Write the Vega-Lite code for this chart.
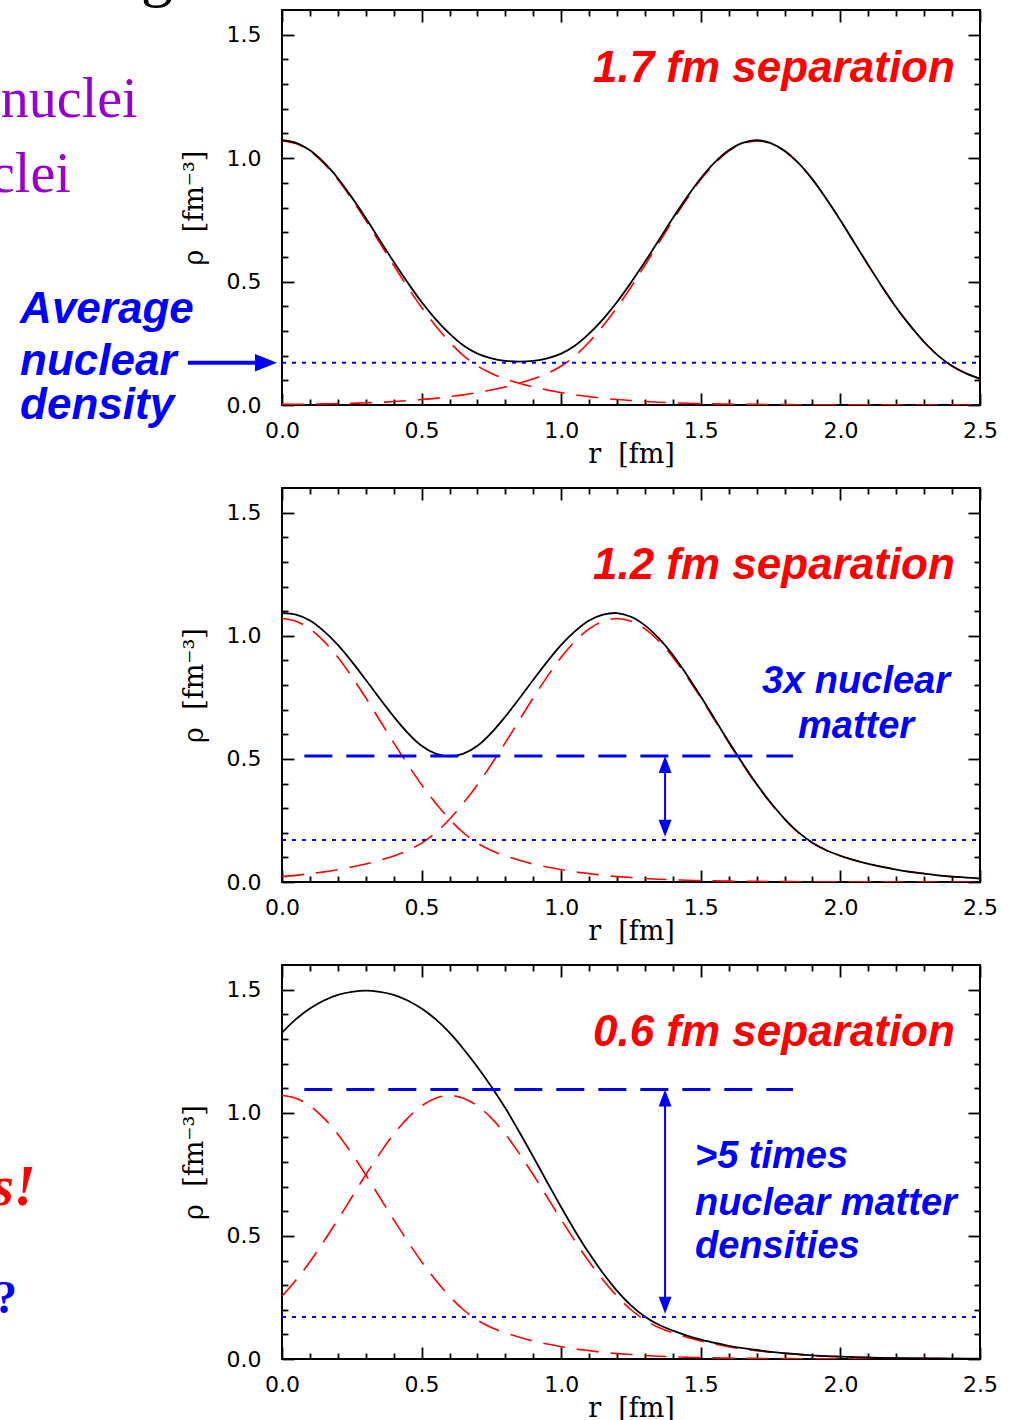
{
"$schema": "https://vega.github.io/schema/vega-lite/v6.json",
"background": "white",
"padding": {"left": -11, "top": -59, "right": 0, "bottom": 0},
"bounds": "flush",
"spacing": 83,
"config": {
  "view": {"stroke": "black", "strokeWidth": 2},
  "axis": {"grid": false, "domain": false, "labelFont": "DejaVu Sans", "labelFontSize": 22, "labelColor": "black", "tickColor": "black", "tickWidth": 1.8, "titleFont": "DejaVu Serif", "titleFontSize": 27, "titleFontWeight": "normal", "titleColor": "black", "labelFlush": false, "labelOverlap": false}
},
"datasets": {
"p1": [
{"r":0.00,"a":1.070,"b":0.0025,"tot":1.0725},{"r":0.05,"a":1.059,"b":0.003,"tot":1.062},{"r":0.10,"a":1.028,"b":0.0035,"tot":1.0315},{"r":0.15,"a":0.978,"b":0.0045,"tot":0.9825},{"r":0.20,"a":0.913,"b":0.0055,"tot":0.9185},{"r":0.25,"a":0.834,"b":0.007,"tot":0.841},{"r":0.30,"a":0.748,"b":0.009,"tot":0.757},{"r":0.35,"a":0.657,"b":0.011,"tot":0.668},{"r":0.40,"a":0.566,"b":0.014,"tot":0.580},{"r":0.45,"a":0.478,"b":0.018,"tot":0.496},{"r":0.50,"a":0.395,"b":0.022,"tot":0.417},{"r":0.55,"a":0.321,"b":0.027,"tot":0.348},{"r":0.60,"a":0.255,"b":0.034,"tot":0.289},{"r":0.65,"a":0.200,"b":0.041,"tot":0.241},{"r":0.70,"a":0.158,"b":0.050,"tot":0.208},{"r":0.75,"a":0.128,"b":0.061,"tot":0.189},{"r":0.80,"a":0.106,"b":0.073,"tot":0.179},{"r":0.85,"a":0.088,"b":0.088,"tot":0.176},{"r":0.90,"a":0.073,"b":0.106,"tot":0.179},{"r":0.95,"a":0.061,"b":0.128,"tot":0.189},{"r":1.00,"a":0.050,"b":0.158,"tot":0.208},{"r":1.05,"a":0.041,"b":0.200,"tot":0.241},{"r":1.10,"a":0.034,"b":0.255,"tot":0.289},{"r":1.15,"a":0.027,"b":0.321,"tot":0.348},{"r":1.20,"a":0.022,"b":0.395,"tot":0.417},{"r":1.25,"a":0.018,"b":0.478,"tot":0.496},{"r":1.30,"a":0.014,"b":0.566,"tot":0.580},{"r":1.35,"a":0.011,"b":0.657,"tot":0.668},{"r":1.40,"a":0.009,"b":0.748,"tot":0.757},{"r":1.45,"a":0.007,"b":0.834,"tot":0.841},{"r":1.50,"a":0.0055,"b":0.913,"tot":0.9185},{"r":1.55,"a":0.0045,"b":0.978,"tot":0.9825},{"r":1.60,"a":0.0035,"b":1.028,"tot":1.0315},{"r":1.65,"a":0.003,"b":1.059,"tot":1.062},{"r":1.70,"a":0.0025,"b":1.070,"tot":1.0725},{"r":1.75,"a":0.002,"b":1.059,"tot":1.061},{"r":1.80,"a":0.0016,"b":1.028,"tot":1.0296},{"r":1.85,"a":0.0013,"b":0.978,"tot":0.9793},{"r":1.90,"a":0.001,"b":0.913,"tot":0.914},{"r":1.95,"a":0.0008,"b":0.834,"tot":0.8348},{"r":2.00,"a":0.0007,"b":0.748,"tot":0.7487},{"r":2.05,"a":0.0006,"b":0.657,"tot":0.6576},{"r":2.10,"a":0.0005,"b":0.566,"tot":0.5665},{"r":2.15,"a":0.0004,"b":0.478,"tot":0.4784},{"r":2.20,"a":0.0003,"b":0.395,"tot":0.3953},{"r":2.25,"a":0.0003,"b":0.321,"tot":0.3213},{"r":2.30,"a":0.0002,"b":0.255,"tot":0.2552},{"r":2.35,"a":0.0002,"b":0.200,"tot":0.2002},{"r":2.40,"a":0.0001,"b":0.158,"tot":0.1581},{"r":2.45,"a":0.0001,"b":0.128,"tot":0.1281},{"r":2.50,"a":0.0001,"b":0.106,"tot":0.1061}
],
"p2": [
{"r":0.00,"a":1.070,"b":0.022,"tot":1.092},{"r":0.05,"a":1.059,"b":0.027,"tot":1.086},{"r":0.10,"a":1.028,"b":0.034,"tot":1.062},{"r":0.15,"a":0.978,"b":0.041,"tot":1.019},{"r":0.20,"a":0.913,"b":0.050,"tot":0.963},{"r":0.25,"a":0.834,"b":0.061,"tot":0.895},{"r":0.30,"a":0.748,"b":0.073,"tot":0.821},{"r":0.35,"a":0.657,"b":0.088,"tot":0.745},{"r":0.40,"a":0.566,"b":0.106,"tot":0.672},{"r":0.45,"a":0.478,"b":0.128,"tot":0.606},{"r":0.50,"a":0.395,"b":0.158,"tot":0.553},{"r":0.55,"a":0.321,"b":0.200,"tot":0.521},{"r":0.60,"a":0.255,"b":0.255,"tot":0.510},{"r":0.65,"a":0.200,"b":0.321,"tot":0.521},{"r":0.70,"a":0.158,"b":0.395,"tot":0.553},{"r":0.75,"a":0.128,"b":0.478,"tot":0.606},{"r":0.80,"a":0.106,"b":0.566,"tot":0.672},{"r":0.85,"a":0.088,"b":0.657,"tot":0.745},{"r":0.90,"a":0.073,"b":0.748,"tot":0.821},{"r":0.95,"a":0.061,"b":0.834,"tot":0.895},{"r":1.00,"a":0.050,"b":0.913,"tot":0.963},{"r":1.05,"a":0.041,"b":0.978,"tot":1.019},{"r":1.10,"a":0.034,"b":1.028,"tot":1.062},{"r":1.15,"a":0.027,"b":1.059,"tot":1.086},{"r":1.20,"a":0.022,"b":1.070,"tot":1.092},{"r":1.25,"a":0.018,"b":1.059,"tot":1.077},{"r":1.30,"a":0.014,"b":1.028,"tot":1.042},{"r":1.35,"a":0.011,"b":0.978,"tot":0.989},{"r":1.40,"a":0.009,"b":0.913,"tot":0.922},{"r":1.45,"a":0.007,"b":0.834,"tot":0.841},{"r":1.50,"a":0.0055,"b":0.748,"tot":0.7535},{"r":1.55,"a":0.0045,"b":0.657,"tot":0.6615},{"r":1.60,"a":0.0035,"b":0.566,"tot":0.5695},{"r":1.65,"a":0.003,"b":0.478,"tot":0.481},{"r":1.70,"a":0.0025,"b":0.395,"tot":0.3975},{"r":1.75,"a":0.002,"b":0.321,"tot":0.323},{"r":1.80,"a":0.0016,"b":0.255,"tot":0.2566},{"r":1.85,"a":0.0013,"b":0.200,"tot":0.2013},{"r":1.90,"a":0.001,"b":0.158,"tot":0.159},{"r":1.95,"a":0.0008,"b":0.128,"tot":0.1288},{"r":2.00,"a":0.0007,"b":0.106,"tot":0.1067},{"r":2.05,"a":0.0006,"b":0.088,"tot":0.0886},{"r":2.10,"a":0.0005,"b":0.073,"tot":0.0735},{"r":2.15,"a":0.0004,"b":0.061,"tot":0.0614},{"r":2.20,"a":0.0003,"b":0.050,"tot":0.0503},{"r":2.25,"a":0.0003,"b":0.041,"tot":0.0413},{"r":2.30,"a":0.0002,"b":0.034,"tot":0.0342},{"r":2.35,"a":0.0002,"b":0.027,"tot":0.0272},{"r":2.40,"a":0.0001,"b":0.022,"tot":0.0221},{"r":2.45,"a":0.0001,"b":0.018,"tot":0.0181},{"r":2.50,"a":0.0001,"b":0.014,"tot":0.0141}
],
"p3": [
{"r":0.00,"a":1.070,"b":0.255,"tot":1.325},{"r":0.05,"a":1.059,"b":0.321,"tot":1.380},{"r":0.10,"a":1.028,"b":0.395,"tot":1.423},{"r":0.15,"a":0.978,"b":0.478,"tot":1.456},{"r":0.20,"a":0.913,"b":0.566,"tot":1.479},{"r":0.25,"a":0.834,"b":0.657,"tot":1.491},{"r":0.30,"a":0.748,"b":0.748,"tot":1.496},{"r":0.35,"a":0.657,"b":0.834,"tot":1.491},{"r":0.40,"a":0.566,"b":0.913,"tot":1.479},{"r":0.45,"a":0.478,"b":0.978,"tot":1.456},{"r":0.50,"a":0.395,"b":1.028,"tot":1.423},{"r":0.55,"a":0.321,"b":1.059,"tot":1.380},{"r":0.60,"a":0.255,"b":1.070,"tot":1.325},{"r":0.65,"a":0.200,"b":1.059,"tot":1.259},{"r":0.70,"a":0.158,"b":1.028,"tot":1.186},{"r":0.75,"a":0.128,"b":0.978,"tot":1.106},{"r":0.80,"a":0.106,"b":0.913,"tot":1.019},{"r":0.85,"a":0.088,"b":0.834,"tot":0.922},{"r":0.90,"a":0.073,"b":0.748,"tot":0.821},{"r":0.95,"a":0.061,"b":0.657,"tot":0.718},{"r":1.00,"a":0.050,"b":0.566,"tot":0.616},{"r":1.05,"a":0.041,"b":0.478,"tot":0.519},{"r":1.10,"a":0.034,"b":0.395,"tot":0.429},{"r":1.15,"a":0.027,"b":0.321,"tot":0.348},{"r":1.20,"a":0.022,"b":0.255,"tot":0.277},{"r":1.25,"a":0.018,"b":0.200,"tot":0.218},{"r":1.30,"a":0.014,"b":0.158,"tot":0.172},{"r":1.35,"a":0.011,"b":0.128,"tot":0.139},{"r":1.40,"a":0.009,"b":0.106,"tot":0.115},{"r":1.45,"a":0.007,"b":0.088,"tot":0.095},{"r":1.50,"a":0.0055,"b":0.073,"tot":0.0785},{"r":1.55,"a":0.0045,"b":0.061,"tot":0.0655},{"r":1.60,"a":0.0035,"b":0.050,"tot":0.0535},{"r":1.65,"a":0.003,"b":0.041,"tot":0.044},{"r":1.70,"a":0.0025,"b":0.034,"tot":0.0365},{"r":1.75,"a":0.002,"b":0.027,"tot":0.029},{"r":1.80,"a":0.0016,"b":0.022,"tot":0.0236},{"r":1.85,"a":0.0013,"b":0.018,"tot":0.0193},{"r":1.90,"a":0.001,"b":0.014,"tot":0.015},{"r":1.95,"a":0.0008,"b":0.011,"tot":0.0118},{"r":2.00,"a":0.0007,"b":0.009,"tot":0.0097},{"r":2.05,"a":0.0006,"b":0.007,"tot":0.0076},{"r":2.10,"a":0.0005,"b":0.0055,"tot":0.006},{"r":2.15,"a":0.0004,"b":0.0045,"tot":0.0049},{"r":2.20,"a":0.0003,"b":0.0035,"tot":0.0038},{"r":2.25,"a":0.0003,"b":0.003,"tot":0.0033},{"r":2.30,"a":0.0002,"b":0.0025,"tot":0.0027},{"r":2.35,"a":0.0002,"b":0.002,"tot":0.0022},{"r":2.40,"a":0.0001,"b":0.0016,"tot":0.0017},{"r":2.45,"a":0.0001,"b":0.0013,"tot":0.0014},{"r":2.50,"a":0.0001,"b":0.001,"tot":0.0011}
]
},
"vconcat": [
{
"width": 698, "height": 395,
"resolve": {"axis": {"x": "independent", "y": "independent"}},
"layer": [
{"data": {"name": "p1"}, "mark": {"type": "line", "color": "#ff0000", "strokeWidth": 1.6, "strokeDash": [22, 12], "interpolate": "catmull-rom", "clip": true},
 "encoding": {"x": {"field": "r", "type": "quantitative", "scale": {"domain": [0, 2.5], "nice": false, "zero": false}, "axis": {"orient": "bottom", "values": [0, 0.5, 1, 1.5, 2, 2.5], "ticks": false, "format": ".1f", "labelPadding": 15, "title": "r\u00a0\u00a0[fm]", "titlePadding": 0}},
  "y": {"field": "a", "type": "quantitative", "scale": {"domain": [0, 1.6], "nice": false, "zero": false}, "axis": {"orient": "left", "values": [0, 0.5, 1, 1.5], "ticks": false, "format": ".1f", "labelPadding": 21, "title": "ρ\u00a0\u00a0[fm⁻³]", "titlePadding": 18}}}},
{"data": {"name": "p1"}, "mark": {"type": "line", "color": "#ff0000", "strokeWidth": 1.6, "strokeDash": [22, 12], "interpolate": "catmull-rom", "clip": true},
 "encoding": {"x": {"field": "r", "type": "quantitative", "scale": {"domain": [0, 2.5], "nice": false, "zero": false}, "axis": {"orient": "bottom", "values": [0, 0.5, 1, 1.5, 2, 2.5], "labels": false, "tickSize": -12, "title": null}},
  "y": {"field": "b", "type": "quantitative", "scale": {"domain": [0, 1.6], "nice": false, "zero": false}, "axis": {"orient": "left", "values": [0, 0.5, 1, 1.5], "labels": false, "tickSize": -12, "title": null}}}},
{"data": {"name": "p1"}, "mark": {"type": "line", "color": "black", "strokeWidth": 1.8, "interpolate": "catmull-rom", "clip": true},
 "encoding": {"x": {"field": "r", "type": "quantitative", "scale": {"domain": [0, 2.5], "nice": false, "zero": false}, "axis": {"orient": "bottom", "values": [0.1,0.2,0.3,0.4,0.6,0.7,0.8,0.9,1.1,1.2,1.3,1.4,1.6,1.7,1.8,1.9,2.1,2.2,2.3,2.4], "labels": false, "tickSize": -6, "title": null}},
  "y": {"field": "tot", "type": "quantitative", "scale": {"domain": [0, 1.6], "nice": false, "zero": false}, "axis": {"orient": "left", "values": [0.1,0.2,0.3,0.4,0.6,0.7,0.8,0.9,1.1,1.2,1.3,1.4], "labels": false, "tickSize": -6, "title": null}}}},
{"data": {"name": "p1"}, "mark": {"type": "point", "opacity": 0},
 "encoding": {"x": {"field": "r", "type": "quantitative", "scale": {"domain": [0, 2.5], "nice": false, "zero": false}, "axis": {"orient": "top", "values": [0, 0.5, 1, 1.5, 2, 2.5], "labels": false, "tickSize": -12, "title": null}},
  "y": {"field": "tot", "type": "quantitative", "scale": {"domain": [0, 1.6], "nice": false, "zero": false}, "axis": {"orient": "right", "values": [0, 0.5, 1, 1.5], "labels": false, "tickSize": -12, "title": null}}}},
{"data": {"name": "p1"}, "mark": {"type": "point", "opacity": 0},
 "encoding": {"x": {"field": "r", "type": "quantitative", "scale": {"domain": [0, 2.5], "nice": false, "zero": false}, "axis": {"orient": "top", "values": [0.1,0.2,0.3,0.4,0.6,0.7,0.8,0.9,1.1,1.2,1.3,1.4,1.6,1.7,1.8,1.9,2.1,2.2,2.3,2.4], "labels": false, "tickSize": -6, "title": null}},
  "y": {"field": "tot", "type": "quantitative", "scale": {"domain": [0, 1.6], "nice": false, "zero": false}, "axis": {"orient": "right", "values": [0.1,0.2,0.3,0.4,0.6,0.7,0.8,0.9,1.1,1.2,1.3,1.4], "labels": false, "tickSize": -6, "title": null}}}},
{"data": {"values": [{}]}, "mark": {"type": "rule", "color": "#0000ff", "strokeWidth": 2, "strokeDash": [4, 6]},
 "encoding": {"x": {"datum": 0, "type": "quantitative", "scale": {"domain": [0, 2.5], "nice": false, "zero": false}, "axis": null}, "x2": {"datum": 2.5}, "y": {"datum": 0.171, "type": "quantitative", "scale": {"domain": [0, 1.6], "nice": false, "zero": false}, "axis": null}}},
{"data": {"values": [{}]}, "mark": {"type": "text", "text": "1.7 fm separation", "font": "Liberation Sans", "fontSize": 44, "fontWeight": "bold", "fontStyle": "italic", "color": "#ff0000", "align": "right", "baseline": "alphabetic"},
 "encoding": {"x": {"datum": 2.41, "type": "quantitative", "scale": {"domain": [0, 2.5], "nice": false, "zero": false}, "axis": null}, "y": {"datum": 1.309, "type": "quantitative", "scale": {"domain": [0, 1.6], "nice": false, "zero": false}, "axis": null}}},
{"data": {"values": [{}]}, "mark": {"type": "text", "text": "g", "font": "Liberation Serif", "fontSize": 64, "color": "black", "align": "left", "baseline": "alphabetic"},
 "encoding": {"x": {"datum": -0.505, "type": "quantitative", "scale": {"domain": [0, 2.5], "nice": false, "zero": false}, "axis": null}, "y": {"datum": 1.665, "type": "quantitative", "scale": {"domain": [0, 1.6], "nice": false, "zero": false}, "axis": null}}},
{"data": {"values": [{}]}, "mark": {"type": "text", "text": "nuclei", "font": "Liberation Serif", "fontSize": 56, "color": "#9900cc", "align": "left", "baseline": "alphabetic"},
 "encoding": {"x": {"datum": -1.0072, "type": "quantitative", "scale": {"domain": [0, 2.5], "nice": false, "zero": false}, "axis": null}, "y": {"datum": 1.167, "type": "quantitative", "scale": {"domain": [0, 1.6], "nice": false, "zero": false}, "axis": null}}},
{"data": {"values": [{}]}, "mark": {"type": "text", "text": "clei", "font": "Liberation Serif", "fontSize": 56, "color": "#9900cc", "align": "left", "baseline": "alphabetic"},
 "encoding": {"x": {"datum": -1.0458, "type": "quantitative", "scale": {"domain": [0, 2.5], "nice": false, "zero": false}, "axis": null}, "y": {"datum": 0.863, "type": "quantitative", "scale": {"domain": [0, 1.6], "nice": false, "zero": false}, "axis": null}}},
{"data": {"values": [{}]}, "mark": {"type": "text", "text": "Average", "font": "Liberation Sans", "fontSize": 44, "fontWeight": "bold", "fontStyle": "italic", "color": "#0000ff", "align": "left", "baseline": "alphabetic"},
 "encoding": {"x": {"datum": -0.938, "type": "quantitative", "scale": {"domain": [0, 2.5], "nice": false, "zero": false}, "axis": null}, "y": {"datum": 0.332, "type": "quantitative", "scale": {"domain": [0, 1.6], "nice": false, "zero": false}, "axis": null}}},
{"data": {"values": [{}]}, "mark": {"type": "text", "text": "nuclear", "font": "Liberation Sans", "fontSize": 44, "fontWeight": "bold", "fontStyle": "italic", "color": "#0000ff", "align": "left", "baseline": "alphabetic"},
 "encoding": {"x": {"datum": -0.938, "type": "quantitative", "scale": {"domain": [0, 2.5], "nice": false, "zero": false}, "axis": null}, "y": {"datum": 0.1215, "type": "quantitative", "scale": {"domain": [0, 1.6], "nice": false, "zero": false}, "axis": null}}},
{"data": {"values": [{}]}, "mark": {"type": "text", "text": "density", "font": "Liberation Sans", "fontSize": 44, "fontWeight": "bold", "fontStyle": "italic", "color": "#0000ff", "align": "left", "baseline": "alphabetic"},
 "encoding": {"x": {"datum": -0.938, "type": "quantitative", "scale": {"domain": [0, 2.5], "nice": false, "zero": false}, "axis": null}, "y": {"datum": -0.0567, "type": "quantitative", "scale": {"domain": [0, 1.6], "nice": false, "zero": false}, "axis": null}}},
{"data": {"values": [{}]}, "mark": {"type": "rule", "color": "#0000ff", "strokeWidth": 4},
 "encoding": {"x": {"datum": -0.337, "type": "quantitative", "scale": {"domain": [0, 2.5], "nice": false, "zero": false}, "axis": null}, "x2": {"datum": -0.06}, "y": {"datum": 0.171, "type": "quantitative", "scale": {"domain": [0, 1.6], "nice": false, "zero": false}, "axis": null}}},
{"data": {"values": [{}]}, "mark": {"type": "point", "shape": "M0,0L-2,-0.8L-2,0.8Z", "size": 484, "filled": true, "color": "#0000ff", "opacity": 1},
 "encoding": {"x": {"datum": -0.018, "type": "quantitative", "scale": {"domain": [0, 2.5], "nice": false, "zero": false}, "axis": null}, "y": {"datum": 0.171, "type": "quantitative", "scale": {"domain": [0, 1.6], "nice": false, "zero": false}, "axis": null}}}
]
},
{
"width": 698, "height": 394,
"resolve": {"axis": {"x": "independent", "y": "independent"}},
"layer": [
{"data": {"name": "p2"}, "mark": {"type": "line", "color": "#ff0000", "strokeWidth": 1.6, "strokeDash": [22, 12], "interpolate": "catmull-rom", "clip": true},
 "encoding": {"x": {"field": "r", "type": "quantitative", "scale": {"domain": [0, 2.5], "nice": false, "zero": false}, "axis": {"orient": "bottom", "values": [0, 0.5, 1, 1.5, 2, 2.5], "ticks": false, "format": ".1f", "labelPadding": 15, "title": "r\u00a0\u00a0[fm]", "titlePadding": 0}},
  "y": {"field": "a", "type": "quantitative", "scale": {"domain": [0, 1.6], "nice": false, "zero": false}, "axis": {"orient": "left", "values": [0, 0.5, 1, 1.5], "ticks": false, "format": ".1f", "labelPadding": 21, "title": "ρ\u00a0\u00a0[fm⁻³]", "titlePadding": 18}}}},
{"data": {"name": "p2"}, "mark": {"type": "line", "color": "#ff0000", "strokeWidth": 1.6, "strokeDash": [22, 12], "interpolate": "catmull-rom", "clip": true},
 "encoding": {"x": {"field": "r", "type": "quantitative", "scale": {"domain": [0, 2.5], "nice": false, "zero": false}, "axis": {"orient": "bottom", "values": [0, 0.5, 1, 1.5, 2, 2.5], "labels": false, "tickSize": -12, "title": null}},
  "y": {"field": "b", "type": "quantitative", "scale": {"domain": [0, 1.6], "nice": false, "zero": false}, "axis": {"orient": "left", "values": [0, 0.5, 1, 1.5], "labels": false, "tickSize": -12, "title": null}}}},
{"data": {"name": "p2"}, "mark": {"type": "line", "color": "black", "strokeWidth": 1.8, "interpolate": "catmull-rom", "clip": true},
 "encoding": {"x": {"field": "r", "type": "quantitative", "scale": {"domain": [0, 2.5], "nice": false, "zero": false}, "axis": {"orient": "bottom", "values": [0.1,0.2,0.3,0.4,0.6,0.7,0.8,0.9,1.1,1.2,1.3,1.4,1.6,1.7,1.8,1.9,2.1,2.2,2.3,2.4], "labels": false, "tickSize": -6, "title": null}},
  "y": {"field": "tot", "type": "quantitative", "scale": {"domain": [0, 1.6], "nice": false, "zero": false}, "axis": {"orient": "left", "values": [0.1,0.2,0.3,0.4,0.6,0.7,0.8,0.9,1.1,1.2,1.3,1.4], "labels": false, "tickSize": -6, "title": null}}}},
{"data": {"name": "p2"}, "mark": {"type": "point", "opacity": 0},
 "encoding": {"x": {"field": "r", "type": "quantitative", "scale": {"domain": [0, 2.5], "nice": false, "zero": false}, "axis": {"orient": "top", "values": [0, 0.5, 1, 1.5, 2, 2.5], "labels": false, "tickSize": -12, "title": null}},
  "y": {"field": "tot", "type": "quantitative", "scale": {"domain": [0, 1.6], "nice": false, "zero": false}, "axis": {"orient": "right", "values": [0, 0.5, 1, 1.5], "labels": false, "tickSize": -12, "title": null}}}},
{"data": {"name": "p2"}, "mark": {"type": "point", "opacity": 0},
 "encoding": {"x": {"field": "r", "type": "quantitative", "scale": {"domain": [0, 2.5], "nice": false, "zero": false}, "axis": {"orient": "top", "values": [0.1,0.2,0.3,0.4,0.6,0.7,0.8,0.9,1.1,1.2,1.3,1.4,1.6,1.7,1.8,1.9,2.1,2.2,2.3,2.4], "labels": false, "tickSize": -6, "title": null}},
  "y": {"field": "tot", "type": "quantitative", "scale": {"domain": [0, 1.6], "nice": false, "zero": false}, "axis": {"orient": "right", "values": [0.1,0.2,0.3,0.4,0.6,0.7,0.8,0.9,1.1,1.2,1.3,1.4], "labels": false, "tickSize": -6, "title": null}}}},
{"data": {"values": [{}]}, "mark": {"type": "rule", "color": "#0000ff", "strokeWidth": 2, "strokeDash": [4, 6]},
 "encoding": {"x": {"datum": 0, "type": "quantitative", "scale": {"domain": [0, 2.5], "nice": false, "zero": false}, "axis": null}, "x2": {"datum": 2.5}, "y": {"datum": 0.171, "type": "quantitative", "scale": {"domain": [0, 1.6], "nice": false, "zero": false}, "axis": null}}},
{"data": {"values": [{}]}, "mark": {"type": "rule", "color": "#0000ff", "strokeWidth": 3, "strokeDash": [28, 14]},
 "encoding": {"x": {"datum": 0.08, "type": "quantitative", "scale": {"domain": [0, 2.5], "nice": false, "zero": false}, "axis": null}, "x2": {"datum": 1.83}, "y": {"datum": 0.512, "type": "quantitative", "scale": {"domain": [0, 1.6], "nice": false, "zero": false}, "axis": null}}},
{"data": {"values": [{}]}, "mark": {"type": "rule", "color": "#0000ff", "strokeWidth": 2},
 "encoding": {"x": {"datum": 1.372, "type": "quantitative", "scale": {"domain": [0, 2.5], "nice": false, "zero": false}, "axis": null}, "y": {"datum": 0.2, "type": "quantitative", "scale": {"domain": [0, 1.6], "nice": false, "zero": false}, "axis": null}, "y2": {"datum": 0.49}}},
{"data": {"values": [{}]}, "mark": {"type": "point", "shape": "M0,0L0.76,2L-0.76,2Z", "size": 289, "filled": true, "color": "#0000ff", "opacity": 1},
 "encoding": {"x": {"datum": 1.372, "type": "quantitative", "scale": {"domain": [0, 2.5], "nice": false, "zero": false}, "axis": null}, "y": {"datum": 0.512, "type": "quantitative", "scale": {"domain": [0, 1.6], "nice": false, "zero": false}, "axis": null}}},
{"data": {"values": [{}]}, "mark": {"type": "point", "shape": "M0,0L0.76,-2L-0.76,-2Z", "size": 289, "filled": true, "color": "#0000ff", "opacity": 1},
 "encoding": {"x": {"datum": 1.372, "type": "quantitative", "scale": {"domain": [0, 2.5], "nice": false, "zero": false}, "axis": null}, "y": {"datum": 0.184, "type": "quantitative", "scale": {"domain": [0, 1.6], "nice": false, "zero": false}, "axis": null}}},
{"data": {"values": [{}]}, "mark": {"type": "text", "text": "1.2 fm separation", "font": "Liberation Sans", "fontSize": 44, "fontWeight": "bold", "fontStyle": "italic", "color": "#ff0000", "align": "right", "baseline": "alphabetic"},
 "encoding": {"x": {"datum": 2.41, "type": "quantitative", "scale": {"domain": [0, 2.5], "nice": false, "zero": false}, "axis": null}, "y": {"datum": 1.232, "type": "quantitative", "scale": {"domain": [0, 1.6], "nice": false, "zero": false}, "axis": null}}},
{"data": {"values": [{}]}, "mark": {"type": "text", "text": "3x nuclear", "font": "Liberation Sans", "fontSize": 38, "fontWeight": "bold", "fontStyle": "italic", "color": "#0000ff", "align": "center", "baseline": "alphabetic"},
 "encoding": {"x": {"datum": 2.056, "type": "quantitative", "scale": {"domain": [0, 2.5], "nice": false, "zero": false}, "axis": null}, "y": {"datum": 0.766, "type": "quantitative", "scale": {"domain": [0, 1.6], "nice": false, "zero": false}, "axis": null}}},
{"data": {"values": [{}]}, "mark": {"type": "text", "text": "matter", "font": "Liberation Sans", "fontSize": 38, "fontWeight": "bold", "fontStyle": "italic", "color": "#0000ff", "align": "center", "baseline": "alphabetic"},
 "encoding": {"x": {"datum": 2.056, "type": "quantitative", "scale": {"domain": [0, 2.5], "nice": false, "zero": false}, "axis": null}, "y": {"datum": 0.585, "type": "quantitative", "scale": {"domain": [0, 1.6], "nice": false, "zero": false}, "axis": null}}}
]
},
{
"width": 698, "height": 394,
"resolve": {"axis": {"x": "independent", "y": "independent"}},
"layer": [
{"data": {"name": "p3"}, "mark": {"type": "line", "color": "#ff0000", "strokeWidth": 1.6, "strokeDash": [22, 12], "interpolate": "catmull-rom", "clip": true},
 "encoding": {"x": {"field": "r", "type": "quantitative", "scale": {"domain": [0, 2.5], "nice": false, "zero": false}, "axis": {"orient": "bottom", "values": [0, 0.5, 1, 1.5, 2, 2.5], "ticks": false, "format": ".1f", "labelPadding": 15, "title": "r\u00a0\u00a0[fm]", "titlePadding": 0}},
  "y": {"field": "a", "type": "quantitative", "scale": {"domain": [0, 1.6], "nice": false, "zero": false}, "axis": {"orient": "left", "values": [0, 0.5, 1, 1.5], "ticks": false, "format": ".1f", "labelPadding": 21, "title": "ρ\u00a0\u00a0[fm⁻³]", "titlePadding": 18}}}},
{"data": {"name": "p3"}, "mark": {"type": "line", "color": "#ff0000", "strokeWidth": 1.6, "strokeDash": [22, 12], "interpolate": "catmull-rom", "clip": true},
 "encoding": {"x": {"field": "r", "type": "quantitative", "scale": {"domain": [0, 2.5], "nice": false, "zero": false}, "axis": {"orient": "bottom", "values": [0, 0.5, 1, 1.5, 2, 2.5], "labels": false, "tickSize": -12, "title": null}},
  "y": {"field": "b", "type": "quantitative", "scale": {"domain": [0, 1.6], "nice": false, "zero": false}, "axis": {"orient": "left", "values": [0, 0.5, 1, 1.5], "labels": false, "tickSize": -12, "title": null}}}},
{"data": {"name": "p3"}, "mark": {"type": "line", "color": "black", "strokeWidth": 1.8, "interpolate": "catmull-rom", "clip": true},
 "encoding": {"x": {"field": "r", "type": "quantitative", "scale": {"domain": [0, 2.5], "nice": false, "zero": false}, "axis": {"orient": "bottom", "values": [0.1,0.2,0.3,0.4,0.6,0.7,0.8,0.9,1.1,1.2,1.3,1.4,1.6,1.7,1.8,1.9,2.1,2.2,2.3,2.4], "labels": false, "tickSize": -6, "title": null}},
  "y": {"field": "tot", "type": "quantitative", "scale": {"domain": [0, 1.6], "nice": false, "zero": false}, "axis": {"orient": "left", "values": [0.1,0.2,0.3,0.4,0.6,0.7,0.8,0.9,1.1,1.2,1.3,1.4], "labels": false, "tickSize": -6, "title": null}}}},
{"data": {"name": "p3"}, "mark": {"type": "point", "opacity": 0},
 "encoding": {"x": {"field": "r", "type": "quantitative", "scale": {"domain": [0, 2.5], "nice": false, "zero": false}, "axis": {"orient": "top", "values": [0, 0.5, 1, 1.5, 2, 2.5], "labels": false, "tickSize": -12, "title": null}},
  "y": {"field": "tot", "type": "quantitative", "scale": {"domain": [0, 1.6], "nice": false, "zero": false}, "axis": {"orient": "right", "values": [0, 0.5, 1, 1.5], "labels": false, "tickSize": -12, "title": null}}}},
{"data": {"name": "p3"}, "mark": {"type": "point", "opacity": 0},
 "encoding": {"x": {"field": "r", "type": "quantitative", "scale": {"domain": [0, 2.5], "nice": false, "zero": false}, "axis": {"orient": "top", "values": [0.1,0.2,0.3,0.4,0.6,0.7,0.8,0.9,1.1,1.2,1.3,1.4,1.6,1.7,1.8,1.9,2.1,2.2,2.3,2.4], "labels": false, "tickSize": -6, "title": null}},
  "y": {"field": "tot", "type": "quantitative", "scale": {"domain": [0, 1.6], "nice": false, "zero": false}, "axis": {"orient": "right", "values": [0.1,0.2,0.3,0.4,0.6,0.7,0.8,0.9,1.1,1.2,1.3,1.4], "labels": false, "tickSize": -6, "title": null}}}},
{"data": {"values": [{}]}, "mark": {"type": "rule", "color": "#0000ff", "strokeWidth": 2, "strokeDash": [4, 6]},
 "encoding": {"x": {"datum": 0, "type": "quantitative", "scale": {"domain": [0, 2.5], "nice": false, "zero": false}, "axis": null}, "x2": {"datum": 2.5}, "y": {"datum": 0.171, "type": "quantitative", "scale": {"domain": [0, 1.6], "nice": false, "zero": false}, "axis": null}}},
{"data": {"values": [{}]}, "mark": {"type": "rule", "color": "#0000ff", "strokeWidth": 3, "strokeDash": [28, 14]},
 "encoding": {"x": {"datum": 0.08, "type": "quantitative", "scale": {"domain": [0, 2.5], "nice": false, "zero": false}, "axis": null}, "x2": {"datum": 1.83}, "y": {"datum": 1.094, "type": "quantitative", "scale": {"domain": [0, 1.6], "nice": false, "zero": false}, "axis": null}}},
{"data": {"values": [{}]}, "mark": {"type": "rule", "color": "#0000ff", "strokeWidth": 2},
 "encoding": {"x": {"datum": 1.372, "type": "quantitative", "scale": {"domain": [0, 2.5], "nice": false, "zero": false}, "axis": null}, "y": {"datum": 0.2, "type": "quantitative", "scale": {"domain": [0, 1.6], "nice": false, "zero": false}, "axis": null}, "y2": {"datum": 1.07}}},
{"data": {"values": [{}]}, "mark": {"type": "point", "shape": "M0,0L0.76,2L-0.76,2Z", "size": 289, "filled": true, "color": "#0000ff", "opacity": 1},
 "encoding": {"x": {"datum": 1.372, "type": "quantitative", "scale": {"domain": [0, 2.5], "nice": false, "zero": false}, "axis": null}, "y": {"datum": 1.094, "type": "quantitative", "scale": {"domain": [0, 1.6], "nice": false, "zero": false}, "axis": null}}},
{"data": {"values": [{}]}, "mark": {"type": "point", "shape": "M0,0L0.76,-2L-0.76,-2Z", "size": 289, "filled": true, "color": "#0000ff", "opacity": 1},
 "encoding": {"x": {"datum": 1.372, "type": "quantitative", "scale": {"domain": [0, 2.5], "nice": false, "zero": false}, "axis": null}, "y": {"datum": 0.184, "type": "quantitative", "scale": {"domain": [0, 1.6], "nice": false, "zero": false}, "axis": null}}},
{"data": {"values": [{}]}, "mark": {"type": "text", "text": "0.6 fm separation", "font": "Liberation Sans", "fontSize": 44, "fontWeight": "bold", "fontStyle": "italic", "color": "#ff0000", "align": "right", "baseline": "alphabetic"},
 "encoding": {"x": {"datum": 2.41, "type": "quantitative", "scale": {"domain": [0, 2.5], "nice": false, "zero": false}, "axis": null}, "y": {"datum": 1.273, "type": "quantitative", "scale": {"domain": [0, 1.6], "nice": false, "zero": false}, "axis": null}}},
{"data": {"values": [{}]}, "mark": {"type": "text", "text": ">5 times", "font": "Liberation Sans", "fontSize": 38, "fontWeight": "bold", "fontStyle": "italic", "color": "#0000ff", "align": "left", "baseline": "alphabetic"},
 "encoding": {"x": {"datum": 1.479, "type": "quantitative", "scale": {"domain": [0, 2.5], "nice": false, "zero": false}, "axis": null}, "y": {"datum": 0.774, "type": "quantitative", "scale": {"domain": [0, 1.6], "nice": false, "zero": false}, "axis": null}}},
{"data": {"values": [{}]}, "mark": {"type": "text", "text": "nuclear matter", "font": "Liberation Sans", "fontSize": 38, "fontWeight": "bold", "fontStyle": "italic", "color": "#0000ff", "align": "left", "baseline": "alphabetic"},
 "encoding": {"x": {"datum": 1.479, "type": "quantitative", "scale": {"domain": [0, 2.5], "nice": false, "zero": false}, "axis": null}, "y": {"datum": 0.585, "type": "quantitative", "scale": {"domain": [0, 1.6], "nice": false, "zero": false}, "axis": null}}},
{"data": {"values": [{}]}, "mark": {"type": "text", "text": "densities", "font": "Liberation Sans", "fontSize": 38, "fontWeight": "bold", "fontStyle": "italic", "color": "#0000ff", "align": "left", "baseline": "alphabetic"},
 "encoding": {"x": {"datum": 1.479, "type": "quantitative", "scale": {"domain": [0, 2.5], "nice": false, "zero": false}, "axis": null}, "y": {"datum": 0.409, "type": "quantitative", "scale": {"domain": [0, 1.6], "nice": false, "zero": false}, "axis": null}}},
{"data": {"values": [{}]}, "mark": {"type": "text", "text": "s!", "font": "Liberation Serif", "fontSize": 56, "fontWeight": "bold", "fontStyle": "italic", "color": "#ff0000", "align": "left", "baseline": "alphabetic"},
 "encoding": {"x": {"datum": -1.0387, "type": "quantitative", "scale": {"domain": [0, 2.5], "nice": false, "zero": false}, "axis": null}, "y": {"datum": 0.625, "type": "quantitative", "scale": {"domain": [0, 1.6], "nice": false, "zero": false}, "axis": null}}},
{"data": {"values": [{}]}, "mark": {"type": "text", "text": "?", "font": "Liberation Serif", "fontSize": 46, "fontWeight": "bold", "color": "#0000ff", "align": "left", "baseline": "alphabetic"},
 "encoding": {"x": {"datum": -1.0315, "type": "quantitative", "scale": {"domain": [0, 2.5], "nice": false, "zero": false}, "axis": null}, "y": {"datum": 0.187, "type": "quantitative", "scale": {"domain": [0, 1.6], "nice": false, "zero": false}, "axis": null}}}
]
}
]
}
